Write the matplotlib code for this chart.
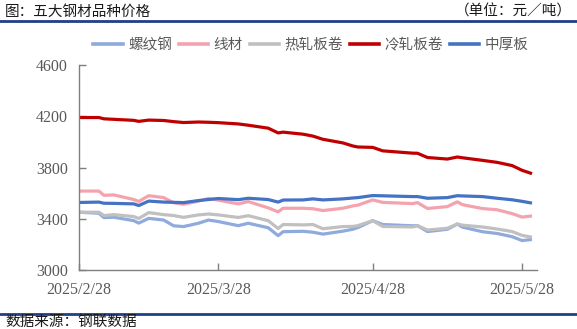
import matplotlib
matplotlib.use("Agg")
import matplotlib.pyplot as plt
import matplotlib.dates as mdates
from matplotlib.lines import Line2D
import pandas as pd

plt.rcParams['font.family'] = ['Noto Sans CJK SC', 'DejaVu Sans']

dates = pd.to_datetime([
    "2025-02-28", "2025-03-04", "2025-03-05", "2025-03-07", "2025-03-11",
    "2025-03-12", "2025-03-14", "2025-03-17", "2025-03-19", "2025-03-21",
    "2025-03-24", "2025-03-26", "2025-03-28", "2025-04-01", "2025-04-03",
    "2025-04-07", "2025-04-09", "2025-04-10", "2025-04-14", "2025-04-16",
    "2025-04-18", "2025-04-22", "2025-04-24", "2025-04-25", "2025-04-28",
    "2025-04-30", "2025-05-06", "2025-05-07", "2025-05-09", "2025-05-13",
    "2025-05-15", "2025-05-16", "2025-05-20", "2025-05-23", "2025-05-26",
    "2025-05-28", "2025-05-30",
])

rebar = [3451, 3443, 3409, 3412, 3385, 3366, 3403, 3390, 3345, 3339,
         3365, 3390, 3378, 3346, 3365, 3330, 3268, 3299, 3302, 3295,
         3280, 3303, 3318, 3331, 3385, 3355, 3345, 3346, 3300, 3318,
         3359, 3335, 3299, 3285, 3260, 3230, 3238]
wire_rod = [3616, 3616, 3583, 3586, 3550, 3535, 3580, 3565, 3525, 3513,
            3538, 3558, 3545, 3516, 3534, 3485, 3454, 3482, 3482, 3478,
            3464, 3482, 3500, 3506, 3547, 3528, 3518, 3526, 3480, 3495,
            3532, 3510, 3480, 3470, 3440, 3413, 3422]
hot_rolled = [3451, 3451, 3425, 3432, 3417, 3402, 3448, 3432, 3425, 3411,
              3430, 3437, 3430, 3410, 3424, 3385, 3324, 3355, 3352, 3355,
              3322, 3339, 3340, 3346, 3385, 3340, 3336, 3346, 3312, 3326,
              3359, 3350, 3336, 3320, 3300, 3270, 3256]
cold_rolled = [4190, 4190, 4180, 4176, 4168, 4160, 4170, 4167, 4158, 4151,
               4155, 4153, 4150, 4140, 4130, 4107, 4070, 4076, 4060, 4045,
               4020, 3992, 3968, 3960, 3957, 3930, 3912, 3911, 3878, 3866,
               3882, 3876, 3856, 3840, 3815, 3778, 3752]
plate = [3527, 3530, 3521, 3520, 3516, 3503, 3538, 3530, 3528, 3526,
         3542, 3550, 3558, 3549, 3560, 3550, 3530, 3546, 3547, 3555,
         3547, 3555, 3562, 3565, 3581, 3579, 3573, 3573, 3560, 3565,
         3580, 3578, 3573, 3560, 3548, 3536, 3522]

series_names = ["螺纹钢", "线材", "热轧板卷", "冷轧板卷", "中厚板"]
series_values = [rebar, wire_rod, hot_rolled, cold_rolled, plate]
series_colors = ["#8FAADC", "#F4A3AE", "#C0C0C0", "#C00000", "#4472C4"]

y_ticks = [3000, 3400, 3800, 4200, 4600]
x_ticks = pd.to_datetime(["2025-02-28", "2025-03-28", "2025-04-28", "2025-05-28"])
x_tick_labels = ["2025/2/28", "2025/3/28", "2025/4/28", "2025/5/28"]

fig = plt.figure(figsize=(5.77, 3.29), dpi=100)
fig.patch.set_facecolor("white")

ax = fig.add_axes([79 / 577, 1 - 270 / 329, (537 - 79) / 577, (270 - 65) / 329])

for vals, col in zip(series_values, series_colors):
    ax.plot(dates, vals, color=col, lw=2.3, solid_capstyle="butt",
            solid_joinstyle="round")

ax.set_ylim(3000, 4600)
ax.set_yticks(y_ticks)
ax.set_xlim(pd.Timestamp("2025-02-28"), pd.Timestamp("2025-05-31"))
ax.set_xticks(x_ticks)
ax.set_xticklabels(x_tick_labels)

for side in ["top", "right"]:
    ax.spines[side].set_visible(False)
for side in ["left", "bottom"]:
    ax.spines[side].set_color("#7F7F7F")
    ax.spines[side].set_linewidth(1.0)

ax.tick_params(axis="both", direction="in", length=5, width=1.0,
               color="#7F7F7F", labelcolor="#595959")
ax.tick_params(axis="y", pad=8)
ax.tick_params(axis="x", pad=9)
for lab in ax.get_xticklabels() + ax.get_yticklabels():
    lab.set_fontfamily("Liberation Serif")
    lab.set_fontsize(11.5)

handles = [Line2D([0], [0], color=c, lw=2.6) for c in series_colors]
leg = fig.legend(handles, series_names, loc="center",
                 bbox_to_anchor=(311 / 577, 1 - 45 / 329), ncol=5,
                 frameon=False, fontsize=10.5, handlelength=2.0,
                 handletextpad=0.4, columnspacing=0.45, borderpad=0)
for t in leg.get_texts():
    t.set_color("#595959")

# header and footer
fig.text(5 / 577, 1 - 12 / 329, "图：五大钢材品种价格", fontsize=10.5,
         color="#1A1A1A", ha="left", va="center")
fig.text(572 / 577, 1 - 12 / 329, "（单位：元／吨）", fontsize=10.5,
         color="#1A1A1A", ha="right", va="center")
fig.add_artist(Line2D([0, 1], [1 - 21 / 329, 1 - 21 / 329],
                      transform=fig.transFigure, color="#1F3F8A", lw=2.0))
fig.add_artist(Line2D([0, 1], [1 - 314 / 329, 1 - 314 / 329],
                      transform=fig.transFigure, color="#1F3F8A", lw=2.0))
fig.text(5 / 577, 1 - 322 / 329, "数据来源：钢联数据", fontsize=10.5,
         color="#1A1A1A", ha="left", va="center")

fig.savefig("out.png", dpi=100, facecolor="white")
